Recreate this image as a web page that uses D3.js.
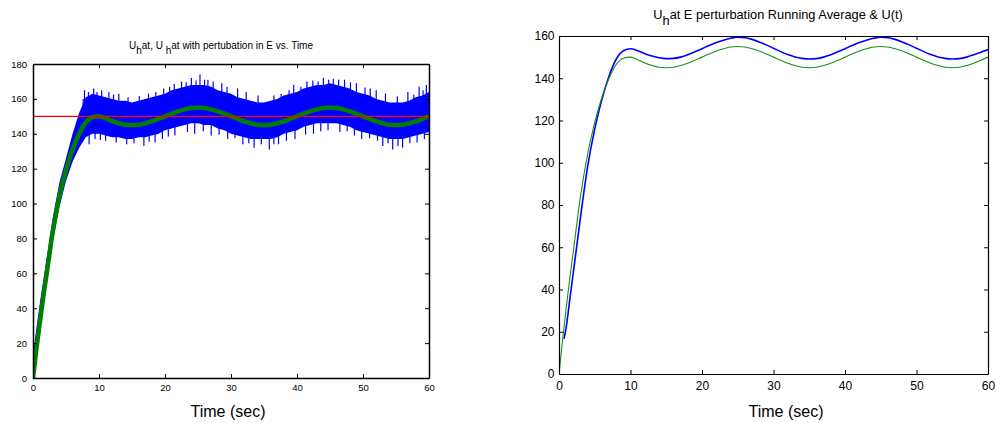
<!DOCTYPE html>
<html>
<head>
<meta charset="utf-8">
<script src="https://cdn.jsdelivr.net/npm/d3@7"></script>
<style>
  body { margin: 0; background: #fff; }
  svg { display: block; font-family: "Liberation Sans", Arial, sans-serif; }
  .axis path, .axis line { stroke: #000; }
  .axis text { fill: #000; }
</style>
</head>
<body>
<svg id="chart" width="996" height="423"></svg>
<script>
// U(t), the reference signal (green in both panels)
const uTime = [0, 0.5, 1, 1.5, 2, 3, 4, 5, 6, 7, 8, 9, 10, 11, 12, 13, 14, 15, 16, 17, 18, 19, 20,
  21, 22, 23, 24, 25, 26, 27, 28, 29, 30, 31, 32, 33, 34, 35, 36, 37, 38, 39, 40,
  41, 42, 43, 44, 45, 46, 47, 48, 49, 50, 51, 52, 53, 54, 55, 56, 57, 58, 59, 60];
const uVals = [0, 16, 31, 45, 58, 84, 104, 119, 131, 140, 146.5, 149.5, 150, 148.8, 147.2, 146, 145.2, 145, 145.2, 146, 147.1, 148.5, 150,
  151.5, 152.9, 154, 154.8, 155, 154.8, 154, 152.9, 151.5, 150, 148.5, 147.1, 146, 145.2, 145, 145.2, 146, 147.1, 148.5, 150,
  151.5, 152.9, 154, 154.8, 155, 154.8, 154, 152.9, 151.5, 150, 148.5, 147.1, 146, 145.2, 145, 145.2, 146, 147.1, 148.5, 150];

// running average of U_hat with E perturbation (blue, right panel)
const avgTime = [0.7, 1, 1.5, 2, 2.5, 3, 4, 5, 6, 7, 8, 9, 10, 11, 12, 13, 14, 15, 16, 17, 18, 19, 20,
  21, 22, 23, 24, 25, 26, 27, 28, 29, 30, 31, 32, 33, 34, 35, 36, 37, 38, 39, 40,
  41, 42, 43, 44, 45, 46, 47, 48, 49, 50, 51, 52, 53, 54, 55, 56, 57, 58, 59, 60];
const avgVals = [16.6, 22, 35, 48, 61, 74, 98, 116, 130, 141, 149, 153, 154, 153, 151.6, 150.5, 149.7, 149.3, 149.4, 150, 151.1, 152.5, 154,
  155.5, 156.9, 158, 158.9, 159.4, 159.2, 158.4, 157.2, 155.8, 154.2, 152.6, 151.2, 150.1, 149.4, 149.1, 149.3, 150, 151.1, 152.5, 154,
  155.5, 156.9, 158, 158.9, 159.4, 159.2, 158.4, 157.2, 155.8, 154.2, 152.6, 151.2, 150.1, 149.4, 149.1, 149.3, 150, 151.1, 152.3, 153.6];

// noisy U_hat band (blue, left panel): envelope per second
const bandTime = d3.range(0, 61);
const bandHigh = [14, 42, 67, 92, 112, 126, 140, 152, 161, 163, 162, 161, 160, 159, 159, 158, 159, 160, 161, 162,
  163, 165, 166, 167, 168, 168, 168, 167, 165, 164, 163, 161, 160, 159, 158, 158, 159, 160, 162, 163,
  164, 166, 167, 168, 168, 169, 168, 167, 166, 164, 163, 162, 160, 159, 158, 158, 158, 159, 161, 162, 164];
const bandLow = [0, 26, 52, 78, 98, 113, 124, 132, 138, 140, 140, 139, 138, 138, 137, 137, 138, 138, 139, 140,
  142, 143, 144, 145, 146, 146, 145, 145, 143, 142, 140, 139, 138, 137, 137, 137, 137, 138, 140, 141,
  142, 144, 145, 146, 146, 146, 146, 145, 144, 142, 141, 140, 139, 138, 137, 137, 137, 138, 139, 140, 141];

// single noise spikes sticking out of the band
const spikeUpT = [7.6, 7.8, 8.4, 9.2, 9.7, 10.4, 11.5, 12.2, 13, 14.4, 16.1, 17.5, 18.6, 19.8, 20.7, 21.4, 22.5, 23.2, 24, 24.7,
  25.3, 26, 26.5, 27.3, 28.6, 29.4, 31, 32.3, 34.1, 36.5, 37.6, 38.8, 39.5, 40.6, 41.5, 42.4, 43.2, 44, 44.8, 45.5,
  46.3, 47.2, 48.1, 49, 50.3, 51.1, 52, 53.4, 55.2, 56.8, 57.7, 58.5, 59.1, 59.6];
const spikeUpV = [160, 165, 164, 166, 164, 165, 164, 162.5, 163, 161, 161.5, 163, 164, 166, 167, 168.5, 170, 169.5, 172, 170.5,
  174, 171, 171, 170, 169, 167, 166, 164, 162, 162, 163, 165, 168, 167, 170, 170.5, 170, 172, 171, 171.5,
  171, 171, 169.5, 169, 166.5, 166, 165, 163, 161.5, 164, 162.5, 167, 165, 168];
const spikeDnT = [8.5, 9.4, 10.2, 11, 12.6, 14.2, 15.3, 16.8, 17.6, 18.5, 19.6, 20.5, 21.5, 23.4, 24.5, 25.8, 27, 28.2, 29.5, 30.6,
  31.8, 32.7, 33.5, 34.6, 35.8, 36.5, 37.2, 38.4, 39.7, 41.3, 42.5, 43.6, 44.7, 46.5, 47.6, 48.7, 49.8, 51, 52.2, 53,
  53.8, 54.5, 55.3, 56, 57.1, 58.2, 59.3];
const spikeDnV = [134, 137, 136.5, 136, 135, 134, 134.5, 133, 135.5, 135, 137, 138.5, 139, 141, 140, 141.5, 139, 139.5, 137, 137.5,
  134, 134.5, 132, 134, 131, 134, 134, 136, 137, 139.5, 140, 141.5, 142, 141, 141.5, 139, 137, 137.5, 136, 133,
  134.5, 131, 133, 132, 134.5, 135, 137];

const setpoint = 150;

const svg = d3.select("#chart");

function panel(box, yMax, fs, padX, padY, lw) {
  const x = d3.scaleLinear().domain([0, 60]).range([box.left, box.right]);
  const y = d3.scaleLinear().domain([0, yMax]).range([box.bottom, box.top]);
  const g = svg.append("g");
  const id = "clip" + box.left;
  svg.append("clipPath").attr("id", id).append("rect")
    .attr("x", box.left).attr("y", box.top)
    .attr("width", box.right - box.left).attr("height", box.bottom - box.top);
  const plot = g.append("g").attr("clip-path", `url(#${id})`);
  const axes = g.append("g");

  const xt = d3.range(0, 61, 10);
  const yt = d3.range(0, yMax + 1, 20);
  const style = sel => {
    sel.select(".domain").attr("stroke-width", lw);
    sel.selectAll(".tick line").attr("stroke-width", 1);
    sel.selectAll("text").style("font-size", fs + "px");
  };
  axes.append("g").attr("class", "axis").attr("transform", `translate(0,${box.bottom})`)
    .call(d3.axisBottom(x).tickValues(xt).tickSize(-4).tickSizeOuter(0).tickPadding(padY)).call(style);
  axes.append("g").attr("class", "axis").attr("transform", `translate(0,${box.top})`)
    .call(d3.axisTop(x).tickValues(xt).tickSize(-4).tickSizeOuter(0).tickFormat("")).call(style);
  axes.append("g").attr("class", "axis").attr("transform", `translate(${box.left},0)`)
    .call(d3.axisLeft(y).tickValues(yt).tickSize(-4).tickSizeOuter(0).tickPadding(padX)).call(style);
  axes.append("g").attr("class", "axis").attr("transform", `translate(${box.right},0)`)
    .call(d3.axisRight(y).tickValues(yt).tickSize(-4).tickSizeOuter(0).tickFormat("")).call(style);
  axes.selectAll(".domain").attr("fill", "none");
  return { x, y, plot, g };
}

function title(cx, cy, fs, parts) {
  const t = svg.append("text").attr("x", cx).attr("y", cy)
    .attr("text-anchor", "middle").style("font-size", fs + "px");
  parts.forEach(p => {
    if (p.sub) {
      t.append("tspan").attr("dy", fs * 0.45).text(p.sub);
    } else {
      t.append("tspan").attr("dy", p.back ? -fs * 0.45 : 0).text(p.text);
    }
  });
}

// ---- left panel
const L = panel({ left: 33, right: 429, top: 64, bottom: 378 }, 180, 9.5, 6, 6, 1.5);

L.plot.append("path")
  .datum(bandTime)
  .attr("fill", "#0000ff")
  .attr("d", d3.area()
    .x(d => L.x(d))
    .y0((d, i) => L.y(bandLow[i]))
    .y1((d, i) => L.y(bandHigh[i])));

const band = (t, arr) => arr[Math.min(bandTime.length - 1, Math.floor(t))];

L.plot.append("g").attr("stroke", "#0000ff").attr("stroke-width", 1.2)
  .selectAll("line").data(spikeUpT).join("line")
  .attr("x1", d => L.x(d)).attr("x2", d => L.x(d))
  .attr("y1", d => L.y(band(d, bandHigh) - 3))
  .attr("y2", (d, i) => L.y(spikeUpV[i]));
L.plot.append("g").attr("stroke", "#0000ff").attr("stroke-width", 1.2)
  .selectAll("line").data(spikeDnT).join("line")
  .attr("x1", d => L.x(d)).attr("x2", d => L.x(d))
  .attr("y1", d => L.y(band(d, bandLow) + 3))
  .attr("y2", (d, i) => L.y(spikeDnV[i]));

L.plot.append("path")
  .datum(uTime)
  .attr("fill", "none").attr("stroke", "#008000").attr("stroke-width", 4.5)
  .attr("d", d3.line().curve(d3.curveMonotoneX).x(d => L.x(d)).y((d, i) => L.y(uVals[i])));

L.plot.append("line")
  .attr("x1", L.x(0)).attr("x2", L.x(60))
  .attr("y1", L.y(setpoint)).attr("y2", L.y(setpoint))
  .attr("stroke", "#ff0000").attr("stroke-width", 1.2);

svg.selectAll(".axis").raise();

title(221, 49, 10, [{ text: "U" }, { sub: "h" }, { text: "at, U ", back: true }, { sub: "h" },
  { text: "at with pertubation in E vs. Time", back: true }]);
svg.append("text").attr("x", 228).attr("y", 417).attr("text-anchor", "middle")
  .style("font-size", "16px").text("Time (sec)");

// ---- right panel
const R = panel({ left: 559, right: 988, top: 36, bottom: 374 }, 160, 12, 4.5, 7.5, 1.2);

R.plot.append("path")
  .datum(avgTime)
  .attr("fill", "none").attr("stroke", "#0000ff").attr("stroke-width", 1.6)
  .attr("d", d3.line().curve(d3.curveMonotoneX).x(d => R.x(d)).y((d, i) => R.y(avgVals[i])));

R.plot.append("path")
  .datum(uTime)
  .attr("fill", "none").attr("stroke", "#189018").attr("stroke-width", 1.1)
  .attr("d", d3.line().curve(d3.curveMonotoneX).x(d => R.x(d)).y((d, i) => R.y(uVals[i])));

svg.selectAll(".axis").raise();

title(778, 19, 12.8, [{ text: "U" }, { sub: "h" }, { text: "at E perturbation Running Average & U(t)", back: true }]);
svg.append("text").attr("x", 786).attr("y", 417).attr("text-anchor", "middle")
  .style("font-size", "16px").text("Time (sec)");
</script>
</body>
</html>
